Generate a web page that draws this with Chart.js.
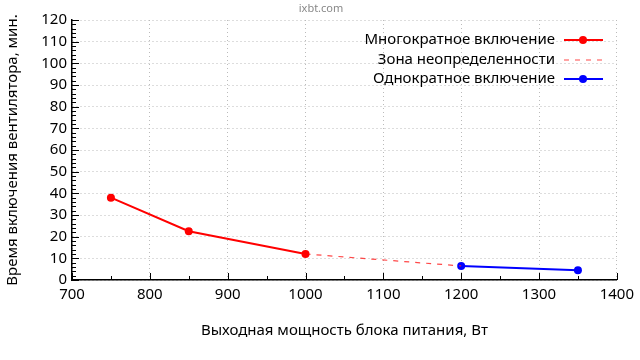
<!DOCTYPE html>
<html><head><meta charset="utf-8">
<script src="https://cdn.jsdelivr.net/npm/chart.js@4"></script>
<style>html,body{margin:0;padding:0;background:#fff}#w{width:640px;height:360px}</style>
</head><body><div id="w"><canvas id="c" width="640" height="360"></canvas></div>
<script>
const multiX = [750, 850, 1000];
const multiY = [38, 22.5, 12];
const zoneX = [1000, 1200];
const zoneY = [12, 6.5];
const singleX = [1200, 1350];
const singleY = [6.5, 4.5];
const seriesNames = ['Многократное включение', 'Зона неопределенности', 'Однократное включение'];
const xTitle = 'Выходная мощность блока питания, Вт';
const yTitle = 'Время включения вентилятора, мин.';
const watermark = 'ixbt.com';

const FONT = '"Noto Sans", "Open Sans", sans-serif';
const pts = (xs, ys) => xs.map((x, i) => ({x, y: ys[i]}));

const inwardTicks = {
  id: 'inwardTicks',
  afterDatasetsDraw(chart) {
    const {ctx, scales: {x, y}, chartArea: a} = chart;
    ctx.save();
    ctx.strokeStyle = '#000';
    ctx.lineWidth = 1;
    ctx.beginPath();
    for (let v = 700; v <= 1400; v += 50) {
      const px = Math.round(x.getPixelForValue(v)) + 0.5;
      const len = (v % 100 === 0) ? 7 : 4;
      ctx.moveTo(px, a.bottom); ctx.lineTo(px, a.bottom - len);
    }
    for (let v = 0; v <= 120; v += 2) {
      const py = Math.round(y.getPixelForValue(v)) + 0.5;
      const len = (v % 10 === 0) ? 7 : 4;
      ctx.moveTo(a.left, py); ctx.lineTo(a.left + len, py);
    }
    ctx.stroke();
    ctx.restore();
  },
  afterDraw(chart) {
    const {ctx} = chart;
    ctx.save();
    ctx.font = '11px ' + FONT;
    ctx.fillStyle = '#888';
    ctx.textAlign = 'center';
    ctx.textBaseline = 'middle';
    ctx.fillText(watermark, 321, 9);
    const rows = [40, 60, 79];
    ctx.font = '15px ' + FONT;
    ctx.textAlign = 'right';
    chart.data.datasets.forEach((ds, i) => {
      const yy = rows[i];
      ctx.fillStyle = '#000';
      ctx.fillText(ds.label, 555, yy);
      ctx.save();
      ctx.strokeStyle = ds.borderColor;
      ctx.lineWidth = ds.borderWidth;
      ctx.setLineDash(ds.borderDash || []);
      ctx.beginPath(); ctx.moveTo(564, yy); ctx.lineTo(603, yy); ctx.stroke();
      ctx.restore();
      if (ds.pointRadius > 0) {
        ctx.fillStyle = ds.pointBackgroundColor;
        ctx.beginPath(); ctx.arc(583, yy, ds.pointRadius, 0, Math.PI * 2); ctx.fill();
      }
    });
    ctx.restore();
  }
};

new Chart(document.getElementById('c'), {
  type: 'line',
  data: {
    datasets: [
      {label: seriesNames[0], data: pts(multiX, multiY), borderColor: '#ff0000', backgroundColor: '#ff0000',
       pointBackgroundColor: '#ff0000', pointBorderColor: '#ff0000', borderWidth: 2, pointRadius: 4, pointBorderWidth: 0},
      {label: seriesNames[1], data: pts(zoneX, zoneY), borderColor: 'rgba(255,40,40,0.85)', backgroundColor: '#ff0000',
       borderWidth: 1.2, borderDash: [5, 6], pointRadius: 0},
      {label: seriesNames[2], data: pts(singleX, singleY), borderColor: '#0000ff', backgroundColor: '#0000ff',
       pointBackgroundColor: '#0000ff', pointBorderColor: '#0000ff', borderWidth: 2, pointRadius: 4, pointBorderWidth: 0}
    ]
  },
  options: {
    responsive: false,
    animation: false,
    layout: {padding: {left: 0, top: 20, right: 23, bottom: 0}},
    plugins: {legend: {display: false}, tooltip: {enabled: false}},
    scales: {
      x: {
        type: 'linear', min: 700, max: 1400,
        ticks: {stepSize: 100, color: '#000', font: {size: 15, family: FONT}, padding: 6,
                callback: v => String(v)},
        grid: {color: '#bbb', lineWidth: 1, drawTicks: false},
        border: {color: '#000', width: 1.5, dash: [1, 3]},
        title: {display: true, text: xTitle, color: '#000', font: {size: 15, family: FONT}, padding: {top: 12, bottom: 20}},
        afterFit(s) { s.height = 80; }
      },
      y: {
        min: 0, max: 120,
        ticks: {stepSize: 10, color: '#000', font: {size: 15, family: FONT}, padding: 5},
        grid: {color: '#bbb', lineWidth: 1, drawTicks: false},
        border: {color: '#000', width: 1.5, dash: [1, 3]},
        title: {display: true, text: yTitle, color: '#000', font: {size: 15, family: FONT}, padding: {top: 4, bottom: 0}},
        afterFit(s) { s.width = 72; }
      }
    }
  },
  plugins: [inwardTicks]
});
</script></body></html>
